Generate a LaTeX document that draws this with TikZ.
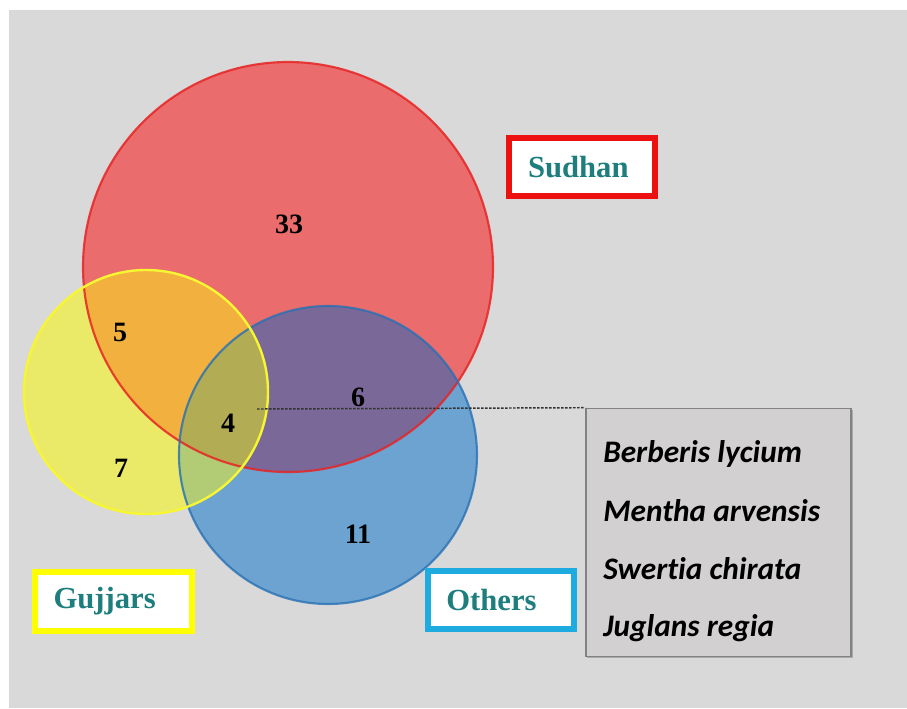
\documentclass[tikz,border=0pt]{standalone}
\usepackage{fontspec}
\setmainfont{Liberation Serif}
\newfontfamily\legfont[Ligatures={NoCommon}]{Carlito}
\usetikzlibrary{shadows}
\definecolor{bgGray}{RGB}{217,217,217}
\definecolor{cRed}{RGB}{234,108,108}
\definecolor{cYel}{RGB}{234,234,104}
\definecolor{cBlu}{RGB}{108,163,208}
\definecolor{cRY}{RGB}{242,176,62}
\definecolor{cRB}{RGB}{122,104,152}
\definecolor{cYB}{RGB}{178,204,118}
\definecolor{cRYB}{RGB}{178,172,84}
\definecolor{bRed}{RGB}{232,36,36}
\definecolor{bYel}{RGB}{246,246,50}
\definecolor{bBlu}{RGB}{40,112,180}
\definecolor{teal}{RGB}{30,126,126}
\definecolor{boxRed}{RGB}{236,16,16}
\definecolor{boxYel}{RGB}{255,255,0}
\definecolor{boxBlu}{RGB}{30,172,224}
\definecolor{legFill}{RGB}{210,208,208}
\definecolor{legLine}{RGB}{130,130,130}
\tikzset{
  num/.style={font=\fontsize{21}{25}\selectfont\bfseries, text=black, inner sep=0pt},
  grpbox/.style={fill=white, line width=4.5pt, minimum height=44pt, inner xsep=14pt,
     align=left, font=\fontsize{23}{27}\selectfont\bfseries, text=teal},
  legtext/.style={font=\legfont\fontsize{23.5}{27}\selectfont\bfseries\itshape, anchor=west, inner sep=0pt},
  legbox/.style={fill=legFill, draw=legLine, line width=1.2pt, minimum width=199pt, minimum height=186pt,
     drop shadow={shadow xshift=1.2pt, shadow yshift=-1.2pt, fill=black!45, opacity=0.6}},
  conn/.style={draw=black!80, line width=1.1pt, dash pattern=on 2pt off 1pt}
}
\begin{document}
\begin{tikzpicture}[x=0.75pt,y=-0.75pt]
\useasboundingbox (0,0) rectangle (907,708);
\fill[white] (0,0) rectangle (907,708);
\fill[bgGray] (9,10) rectangle (907,708);

% circle geometry
\def\redC{(288,267) circle[radius=205]}
\def\yelC{(146,392) circle[radius=122]}
\def\bluC{(328,455) circle[radius=149]}

\fill[cRed] \redC;
\fill[cYel] \yelC;
\fill[cBlu] \bluC;
\begin{scope}\clip \redC; \fill[cRY] \yelC; \end{scope}
\begin{scope}\clip \redC; \fill[cRB] \bluC; \end{scope}
\begin{scope}\clip \yelC; \fill[cYB] \bluC; \end{scope}
\begin{scope}\clip \redC; \clip \yelC; \fill[cRYB] \bluC; \end{scope}

\draw[bRed, line width=1.6pt, draw opacity=0.85] \redC;
\draw[bBlu, line width=1.6pt, draw opacity=0.8] \bluC;
\draw[bYel, line width=1.8pt] \yelC;

% region numbers
\node[num] (n33) at (289,224) {33};
\node[num] (n5)  at (120,332) {5};
\node[num] (n7)  at (121,468) {7};
\node[num] (n4)  at (228,423) {4};
\node[num] (n6)  at (358,397) {6};
\node[num] (n11) at (358,534) {11};

% group boxes
\node[grpbox, draw=boxRed, text width=81pt] (sudhan) at (582,167) {Sudhan};
\node[grpbox, draw=boxYel, text width=90pt] (gujjars) at (113.5,601.5) {Gujjars};
\node[grpbox, draw=boxBlu, text width=82pt] (others) at (501,600) {Others};

% legend
\node[legbox] (legend) at (718.5,532.5) {};
\node[legtext] (l1) at (603,454) {Berberis lycium};
\node[legtext] (l2) at (603,511) {Mentha arvensis};
\node[legtext] (l3) at (603,569) {Swertia chirata};
\node[legtext] (l4) at (603,628) {Juglans regia};

\coordinate (cstart) at (257,409);
\draw[conn] (cstart) -- (legend.north west);
\end{tikzpicture}
\end{document}
